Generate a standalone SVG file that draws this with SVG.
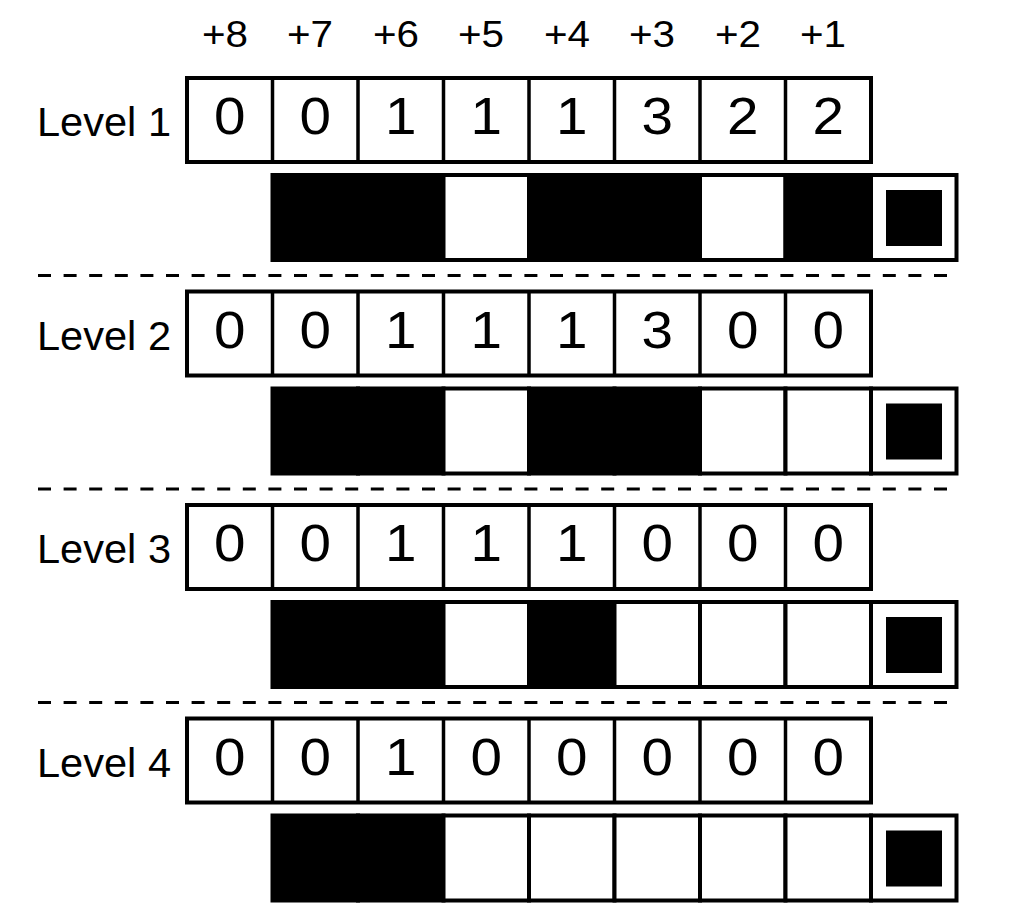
<svg xmlns="http://www.w3.org/2000/svg" width="1017" height="910" viewBox="0 0 1017 910">
<defs>
<style>
.cell{fill:#fff;stroke:#000;stroke-width:4}
.blk{fill:#000;stroke:#000;stroke-width:4}
.frame{fill:none;stroke:#000;stroke-width:3.5}
.dig{font-family:"Liberation Sans",Arial,sans-serif;font-size:51px;text-anchor:middle;fill:#000}
.hdr{font-family:"Liberation Sans",Arial,sans-serif;font-size:36px;text-anchor:middle;fill:#000}
.lvl{font-family:"Liberation Sans",Arial,sans-serif;font-size:41px;fill:#000}
.sep{stroke:#000;stroke-width:3;stroke-dasharray:13 12.6}
</style>
<g id="sq">
<rect class="cell" x="871" y="175" width="85.5" height="85"/>
<rect x="886" y="190" width="56" height="56" fill="#000"/>
</g>
</defs>
<rect width="1017" height="910" fill="#fff"/>
<g id="header" class="hdr">
<text x="225" y="47" textLength="46" lengthAdjust="spacingAndGlyphs">+8</text>
<text x="310" y="47" textLength="46" lengthAdjust="spacingAndGlyphs">+7</text>
<text x="396" y="47" textLength="46" lengthAdjust="spacingAndGlyphs">+6</text>
<text x="481" y="47" textLength="46" lengthAdjust="spacingAndGlyphs">+5</text>
<text x="567" y="47" textLength="46" lengthAdjust="spacingAndGlyphs">+4</text>
<text x="652" y="47" textLength="46" lengthAdjust="spacingAndGlyphs">+3</text>
<text x="738" y="47" textLength="46" lengthAdjust="spacingAndGlyphs">+2</text>
<text x="823" y="47" textLength="46" lengthAdjust="spacingAndGlyphs">+1</text>
</g>
<g id="separators">
<line class="sep" x1="38" y1="275.5" x2="948" y2="275.5"/>
<line class="sep" x1="38" y1="489" x2="948" y2="489"/>
<line class="sep" x1="38" y1="702.5" x2="948" y2="702.5"/>
</g>
<g id="level1">
<text class="lvl" x="37" y="136" textLength="134" lengthAdjust="spacingAndGlyphs">Level 1</text>
<g id="level1-counts">
<rect class="cell" x="187" y="78" width="684" height="84"/>
<path class="frame" d="M272.5 78V162M358 78V162M443.5 78V162M529 78V162M614.5 78V162M700 78V162M785.5 78V162"/>
<g class="dig">
<text x="229.75" y="134" textLength="31.5" lengthAdjust="spacingAndGlyphs">0</text><text x="315.25" y="134" textLength="31.5" lengthAdjust="spacingAndGlyphs">0</text><text x="400.75" y="134" textLength="31.5" lengthAdjust="spacingAndGlyphs">1</text><text x="486.25" y="134" textLength="31.5" lengthAdjust="spacingAndGlyphs">1</text><text x="571.75" y="134" textLength="31.5" lengthAdjust="spacingAndGlyphs">1</text><text x="657.25" y="134" textLength="31.5" lengthAdjust="spacingAndGlyphs">3</text><text x="742.75" y="134" textLength="31.5" lengthAdjust="spacingAndGlyphs">2</text><text x="828.25" y="134" textLength="31.5" lengthAdjust="spacingAndGlyphs">2</text>
</g>
</g>
<g id="level1-bits">
<rect class="blk" x="272.5" y="175" width="85.5" height="85"/>
<rect class="blk" x="358" y="175" width="85.5" height="85"/>
<rect class="cell" x="443.5" y="175" width="85.5" height="85"/>
<rect class="blk" x="529" y="175" width="85.5" height="85"/>
<rect class="blk" x="614.5" y="175" width="85.5" height="85"/>
<rect class="cell" x="700" y="175" width="85.5" height="85"/>
<rect class="blk" x="785.5" y="175" width="85.5" height="85"/>
<use href="#sq"/>
</g>
</g>
<g id="level2" transform="translate(0,213.5)">
<text class="lvl" x="37" y="136" textLength="134" lengthAdjust="spacingAndGlyphs">Level 2</text>
<g id="level2-counts">
<rect class="cell" x="187" y="78" width="684" height="84"/>
<path class="frame" d="M272.5 78V162M358 78V162M443.5 78V162M529 78V162M614.5 78V162M700 78V162M785.5 78V162"/>
<g class="dig">
<text x="229.75" y="134" textLength="31.5" lengthAdjust="spacingAndGlyphs">0</text><text x="315.25" y="134" textLength="31.5" lengthAdjust="spacingAndGlyphs">0</text><text x="400.75" y="134" textLength="31.5" lengthAdjust="spacingAndGlyphs">1</text><text x="486.25" y="134" textLength="31.5" lengthAdjust="spacingAndGlyphs">1</text><text x="571.75" y="134" textLength="31.5" lengthAdjust="spacingAndGlyphs">1</text><text x="657.25" y="134" textLength="31.5" lengthAdjust="spacingAndGlyphs">3</text><text x="742.75" y="134" textLength="31.5" lengthAdjust="spacingAndGlyphs">0</text><text x="828.25" y="134" textLength="31.5" lengthAdjust="spacingAndGlyphs">0</text>
</g>
</g>
<g id="level2-bits">
<rect class="blk" x="272.5" y="175" width="85.5" height="85"/>
<rect class="blk" x="358" y="175" width="85.5" height="85"/>
<rect class="cell" x="443.5" y="175" width="85.5" height="85"/>
<rect class="blk" x="529" y="175" width="85.5" height="85"/>
<rect class="blk" x="614.5" y="175" width="85.5" height="85"/>
<rect class="cell" x="700" y="175" width="85.5" height="85"/>
<rect class="cell" x="785.5" y="175" width="85.5" height="85"/>
<use href="#sq"/>
</g>
</g>
<g id="level3" transform="translate(0,427)">
<text class="lvl" x="37" y="136" textLength="134" lengthAdjust="spacingAndGlyphs">Level 3</text>
<g id="level3-counts">
<rect class="cell" x="187" y="78" width="684" height="84"/>
<path class="frame" d="M272.5 78V162M358 78V162M443.5 78V162M529 78V162M614.5 78V162M700 78V162M785.5 78V162"/>
<g class="dig">
<text x="229.75" y="134" textLength="31.5" lengthAdjust="spacingAndGlyphs">0</text><text x="315.25" y="134" textLength="31.5" lengthAdjust="spacingAndGlyphs">0</text><text x="400.75" y="134" textLength="31.5" lengthAdjust="spacingAndGlyphs">1</text><text x="486.25" y="134" textLength="31.5" lengthAdjust="spacingAndGlyphs">1</text><text x="571.75" y="134" textLength="31.5" lengthAdjust="spacingAndGlyphs">1</text><text x="657.25" y="134" textLength="31.5" lengthAdjust="spacingAndGlyphs">0</text><text x="742.75" y="134" textLength="31.5" lengthAdjust="spacingAndGlyphs">0</text><text x="828.25" y="134" textLength="31.5" lengthAdjust="spacingAndGlyphs">0</text>
</g>
</g>
<g id="level3-bits">
<rect class="blk" x="272.5" y="175" width="85.5" height="85"/>
<rect class="blk" x="358" y="175" width="85.5" height="85"/>
<rect class="cell" x="443.5" y="175" width="85.5" height="85"/>
<rect class="blk" x="529" y="175" width="85.5" height="85"/>
<rect class="cell" x="614.5" y="175" width="85.5" height="85"/>
<rect class="cell" x="700" y="175" width="85.5" height="85"/>
<rect class="cell" x="785.5" y="175" width="85.5" height="85"/>
<use href="#sq"/>
</g>
</g>
<g id="level4" transform="translate(0,640.5)">
<text class="lvl" x="37" y="136" textLength="134" lengthAdjust="spacingAndGlyphs">Level 4</text>
<g id="level4-counts">
<rect class="cell" x="187" y="78" width="684" height="84"/>
<path class="frame" d="M272.5 78V162M358 78V162M443.5 78V162M529 78V162M614.5 78V162M700 78V162M785.5 78V162"/>
<g class="dig">
<text x="229.75" y="134" textLength="31.5" lengthAdjust="spacingAndGlyphs">0</text><text x="315.25" y="134" textLength="31.5" lengthAdjust="spacingAndGlyphs">0</text><text x="400.75" y="134" textLength="31.5" lengthAdjust="spacingAndGlyphs">1</text><text x="486.25" y="134" textLength="31.5" lengthAdjust="spacingAndGlyphs">0</text><text x="571.75" y="134" textLength="31.5" lengthAdjust="spacingAndGlyphs">0</text><text x="657.25" y="134" textLength="31.5" lengthAdjust="spacingAndGlyphs">0</text><text x="742.75" y="134" textLength="31.5" lengthAdjust="spacingAndGlyphs">0</text><text x="828.25" y="134" textLength="31.5" lengthAdjust="spacingAndGlyphs">0</text>
</g>
</g>
<g id="level4-bits">
<rect class="blk" x="272.5" y="175" width="85.5" height="85"/>
<rect class="blk" x="358" y="175" width="85.5" height="85"/>
<rect class="cell" x="443.5" y="175" width="85.5" height="85"/>
<rect class="cell" x="529" y="175" width="85.5" height="85"/>
<rect class="cell" x="614.5" y="175" width="85.5" height="85"/>
<rect class="cell" x="700" y="175" width="85.5" height="85"/>
<rect class="cell" x="785.5" y="175" width="85.5" height="85"/>
<use href="#sq"/>
</g>
</g>
</svg>
